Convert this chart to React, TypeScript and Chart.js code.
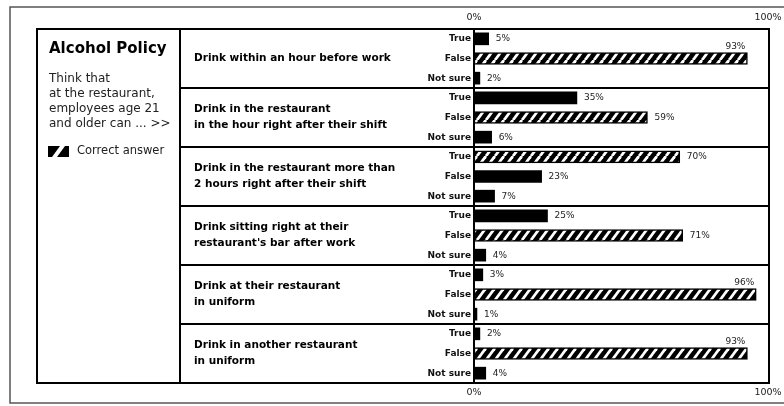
import React, { useEffect, useRef } from 'react';
import { Chart, registerables } from 'chart.js';

Chart.register(...registerables);

const groupLabels = [
  'Drink within an hour before work',
  'Drink in the restaurant\nin the hour right after their shift',
  'Drink in the restaurant more than\n2 hours right after their shift',
  "Drink sitting right at their\nrestaurant's bar after work",
  'Drink at their restaurant\nin uniform',
  'Drink in another restaurant\nin uniform',
];
const answerLabels = ['True', 'False', 'Not sure'];
const trueValues = [5, 35, 70, 25, 3, 2];
const falseValues = [93, 59, 23, 71, 96, 93];
const notSureValues = [2, 6, 7, 4, 1, 4];
const correctAnswers = ['False', 'False', 'True', 'False', 'False', 'False'];
const axisTicks = [0, 100];
const titleText = 'Alcohol Policy';
const introLines = ['Think that', 'at the restaurant,', 'employees age 21', 'and older can ... >>'];
const legendLabel = 'Correct answer';

function makeHatch(): CanvasPattern | string {
  const c = document.createElement('canvas');
  const w = 9;
  const h = 12;
  c.width = w;
  c.height = h;
  const g = c.getContext('2d');
  if (!g) return '#000';
  g.fillStyle = '#000';
  g.fillRect(0, 0, w, h);
  g.strokeStyle = '#fff';
  g.lineWidth = 2.8;
  for (const dx of [-w, 0, w]) {
    g.beginPath();
    g.moveTo(dx, h);
    g.lineTo(dx + w, 0);
    g.stroke();
  }
  return g.createPattern(c, 'repeat') || '#000';
}

export default function App() {
  const ref = useRef<HTMLCanvasElement | null>(null);

  useEffect(() => {
    const canvas = ref.current;
    if (!canvas) return;
    const hatch = makeHatch();

    const labels: string[] = [];
    const values: number[] = [];
    const colors: any[] = [];
    const borders: number[] = [];
    groupLabels.forEach((_, gi) => {
      const vals = [trueValues[gi], falseValues[gi], notSureValues[gi]];
      answerLabels.forEach((a, ai) => {
        labels.push(a);
        values.push(vals[ai]);
        const correct = correctAnswers[gi] === a;
        colors.push(correct ? hatch : '#000');
        borders.push(correct ? 1.5 : 0);
      });
    });

    const decor = {
      id: 'decor',
      beforeDraw(chart: any) {
        const ctx = chart.ctx;
        const y = chart.scales.y;
        const area = chart.chartArea;
        ctx.save();
        // outer frame
        ctx.strokeStyle = '#555';
        ctx.lineWidth = 1.5;
        ctx.beginPath();
        ctx.moveTo(790, 7);
        ctx.lineTo(10, 7);
        ctx.lineTo(10, 403);
        ctx.lineTo(790, 403);
        ctx.stroke();

        // inner box
        const left = 37;
        const right = area.right + 1;
        const top = area.top;
        const bottom = area.bottom;
        const divX = 180;
        ctx.strokeStyle = '#000';
        ctx.lineWidth = 2;
        ctx.strokeRect(left, top, right - left, bottom - top);
        ctx.beginPath();
        ctx.moveTo(divX, top);
        ctx.lineTo(divX, bottom);
        ctx.stroke();

        // row dividers
        for (let g = 1; g < groupLabels.length; g++) {
          const yy = (y.getPixelForValue(3 * g - 1) + y.getPixelForValue(3 * g)) / 2;
          ctx.beginPath();
          ctx.moveTo(divX, yy);
          ctx.lineTo(right, yy);
          ctx.stroke();
        }

        // group labels
        ctx.fillStyle = '#000';
        ctx.font = 'bold 10.5px "DejaVu Sans"';
        ctx.textAlign = 'left';
        ctx.textBaseline = 'middle';
        groupLabels.forEach((lbl, g) => {
          const cy = y.getPixelForValue(3 * g + 1);
          const lines = lbl.split('\n');
          lines.forEach((ln, i) => {
            const off = (i - (lines.length - 1) / 2) * 16;
            ctx.fillText(ln, 194, cy + off);
          });
        });

        // left panel
        ctx.fillStyle = '#000';
        ctx.font = 'bold 15px "DejaVu Sans"';
        ctx.fillText(titleText, 49, 49);
        ctx.fillStyle = '#222';
        ctx.font = '12px "DejaVu Sans"';
        introLines.forEach((ln, i) => {
          ctx.fillText(ln, 49, 79 + i * 15);
        });

        // legend swatch
        const sx = 48;
        const sy = 146;
        ctx.fillStyle = '#000';
        ctx.fillRect(sx, sy, 21, 11);
        ctx.fillStyle = '#fff';
        ctx.beginPath();
        ctx.moveTo(sx + 4, sy + 11);
        ctx.lineTo(sx + 9, sy + 11);
        ctx.lineTo(sx + 17, sy);
        ctx.lineTo(sx + 12, sy);
        ctx.closePath();
        ctx.fill();
        ctx.fillStyle = '#222';
        ctx.font = '11.5px "DejaVu Sans"';
        ctx.fillText(legendLabel, 77, sy + 5.5);
        ctx.restore();
      },
      afterDatasetsDraw(chart: any) {
        const ctx = chart.ctx;
        const meta = chart.getDatasetMeta(0);
        const data = chart.data.datasets[0].data as number[];
        ctx.save();
        ctx.fillStyle = '#222';
        ctx.font = '9px "DejaVu Sans"';
        ctx.textBaseline = 'middle';
        meta.data.forEach((bar: any, i: number) => {
          const v = data[i];
          const txt = v + '%';
          if (v >= 90) {
            ctx.textAlign = 'right';
            ctx.fillText(txt, bar.x - 2, bar.y - 12);
          } else {
            ctx.textAlign = 'left';
            ctx.fillText(txt, bar.x + 7, bar.y);
          }
        });
        ctx.restore();
      },
    };

    const xAxisBase = (pos: 'top' | 'bottom', height: number, pad: number) => ({
      type: 'linear' as const,
      position: pos,
      min: 0,
      max: 100,
      grid: { display: false, drawTicks: false },
      border: { display: false },
      ticks: {
        color: '#222',
        font: { family: 'DejaVu Sans', size: 9.5 },
        padding: pad,
        maxRotation: 0,
        autoSkip: false,
        callback: (v: any) => v + '%',
      },
      afterBuildTicks: (s: any) => {
        s.ticks = axisTicks.map((v) => ({ value: v }));
      },
      afterFit: (s: any) => {
        s.height = height;
        s.paddingLeft = 0;
        s.paddingRight = 0;
      },
    });

    const chart = new Chart(canvas, {
      type: 'bar',
      data: {
        labels,
        datasets: [
          {
            data: values,
            backgroundColor: colors,
            borderColor: '#000',
            borderWidth: borders,
            borderSkipped: false,
            barThickness: 12,
          },
        ],
      },
      options: {
        indexAxis: 'y',
        responsive: false,
        animation: false,
        layout: { padding: { left: 0, right: 16, top: 0, bottom: 0 } },
        plugins: {
          legend: { display: false },
          tooltip: { enabled: false },
        },
        scales: {
          x: xAxisBase('top', 29, 6),
          x2: xAxisBase('bottom', 23, 4),
          y: {
            type: 'category',
            position: 'left',
            grid: { display: false, drawTicks: false },
            border: { display: true, color: '#000', width: 2 },
            ticks: {
              color: '#111',
              font: { family: 'DejaVu Sans', size: 9, weight: 'bold' },
              padding: 3,
              autoSkip: false,
            },
            afterFit: (s: any) => {
              s.width = 474;
            },
          },
        },
      },
      plugins: [decor],
    } as any);

    return () => chart.destroy();
  }, []);

  return (
    <div style={{ position: 'fixed', left: 0, top: 0, width: 784, height: 406, background: '#fff' }}>
      <canvas ref={ref} width={784} height={406} style={{ width: 784, height: 406, display: 'block' }} />
    </div>
  );
}
